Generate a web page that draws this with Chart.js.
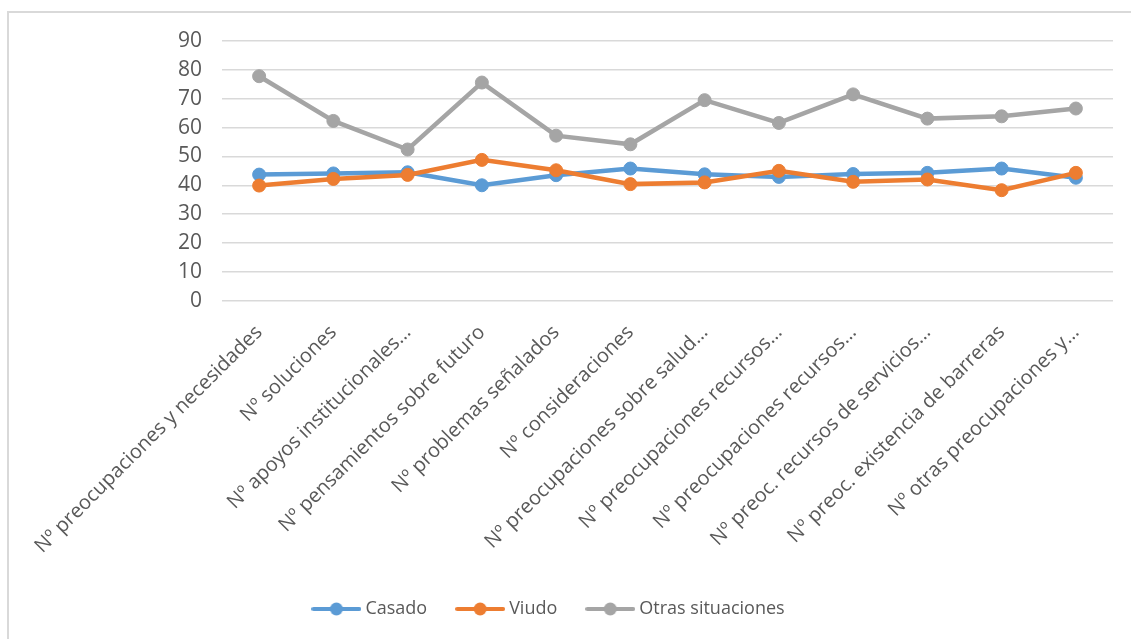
<!DOCTYPE html>
<html lang="es">
<head>
    <meta charset="UTF-8">
    <script src="https://cdn.jsdelivr.net/npm/chart.js"></script>
    <title>Preocupaciones según estado civil</title>
    <style>
        html, body { margin: 0; padding: 0; background: #fff; overflow: hidden; }
        .marco {
            position: absolute; left: 7px; top: 11px;
            width: 1200px; height: 700px;
            border-left: 2px solid #d9d9d9; border-top: 2px solid #d9d9d9;
        }
        #grafico_estadocivil { position: absolute; left: 0; top: 0; }
    </style>
</head>
<body>
    <div class="marco"></div>
    <canvas id="grafico_estadocivil" width="1131" height="639"></canvas>

<script>

    // categorías del eje horizontal (tal como aparecen, recortadas)
    const categorias = [
        'Nº preocupaciones y necesidades',
        'Nº soluciones',
        'Nº apoyos institucionales…',
        'Nº pensamientos sobre futuro',
        'Nº problemas señalados',
        'Nº consideraciones',
        'Nº preocupaciones sobre salud…',
        'Nº preocupaciones recursos…',
        'Nº preocupaciones recursos…',
        'Nº preoc. recursos de servicios…',
        'Nº preoc. existencia de barreras',
        'Nº otras preocupaciones y…'
    ];

    const casado = [43.7, 44.1, 44.5, 40.0, 43.5, 45.8, 43.8, 42.9, 43.9, 44.3, 45.8, 42.6];
    const viudo = [39.9, 42.2, 43.6, 48.8, 45.2, 40.4, 41.0, 45.0, 41.2, 42.0, 38.3, 44.3];
    const otrasSituaciones = [77.8, 62.3, 52.4, 75.6, 57.2, 54.2, 69.5, 61.6, 71.5, 63.1, 63.9, 66.6];

    const nombresSeries = ['Casado', 'Viudo', 'Otras situaciones'];
    const coloresSeries = ['#5b9bd5', '#ed7d31', '#a5a5a5'];
    const valoresEjeY = [0, 90, 10]; // mínimo, máximo, paso

    const colorTexto = '#595959';
    const colorRejilla = '#d9d9d9';

    // icono de la leyenda: línea con el marcador en el centro
    function iconoLeyenda(color) {
        var c = document.createElement('canvas');
        c.width = 50;
        c.height = 16;
        var ctx = c.getContext('2d');
        ctx.strokeStyle = color;
        ctx.lineWidth = 4;
        ctx.lineCap = 'round';
        ctx.beginPath();
        ctx.moveTo(2, 8);
        ctx.lineTo(48, 8);
        ctx.stroke();
        ctx.fillStyle = color;
        ctx.beginPath();
        ctx.arc(25, 8, 6.5, 0, Math.PI * 2);
        ctx.fill();
        return c;
    }

    function serie(indice, datos, orden) {
        return {
            label: nombresSeries[indice],
            data: datos,
            borderColor: coloresSeries[indice],
            backgroundColor: coloresSeries[indice],
            pointBackgroundColor: coloresSeries[indice],
            pointBorderColor: coloresSeries[indice],
            borderWidth: 4.5,
            pointRadius: 6.5,
            pointBorderWidth: 1,
            tension: 0,
            order: orden
        };
    }

    // corre la leyenda un poco a la izquierda
    const moverLeyenda = {
        id: 'moverLeyenda',
        afterLayout(chart) {
            chart.legend.left -= 11;
            chart.legend.right -= 11;
        }
    };

    const graficoEstadoCivil = document.getElementById('grafico_estadocivil');

    new Chart(graficoEstadoCivil, {
        type: 'line',
        data: {
            labels: categorias,
            datasets: [
                serie(0, casado, 3),
                serie(1, viudo, 2),
                serie(2, otrasSituaciones, 1)
            ]
        },
        plugins: [moverLeyenda],
        options: {
            responsive: false,
            devicePixelRatio: 1,
            animation: false,
            layout: {
                padding: { left: 10, right: 18, top: 41, bottom: 11 }
            },
            plugins: {
                tooltip: { enabled: false },
                legend: {
                    position: 'bottom',
                    labels: {
                        usePointStyle: true,
                        pointStyleWidth: 40,
                        padding: 33,
                        color: colorTexto,
                        font: { family: 'Open Sans', size: 18 },
                        sort: (a, b) => a.datasetIndex - b.datasetIndex,
                        generateLabels: (chart) => {
                            const items = Chart.defaults.plugins.legend.labels.generateLabels(chart);
                            items.forEach(item => {
                                item.pointStyle = iconoLeyenda(coloresSeries[item.datasetIndex]);
                            });
                            return items;
                        }
                    }
                }
            },
            scales: {
                x: {
                    offset: true,
                    grid: { display: false },
                    border: { display: false },
                    ticks: {
                        autoSkip: false,
                        minRotation: 45,
                        maxRotation: 45,
                        padding: 12,
                        color: colorTexto,
                        font: { family: 'Open Sans', size: 20 }
                    },
                    afterFit: (escala) => { escala.height = 266.3; }
                },
                y: {
                    min: valoresEjeY[0],
                    max: valoresEjeY[1],
                    border: { display: false },
                    grid: { color: colorRejilla, lineWidth: 1.5, drawTicks: false },
                    ticks: {
                        stepSize: valoresEjeY[2],
                        padding: 20,
                        color: colorTexto,
                        font: { family: 'Open Sans', size: 21 }
                    },
                    afterFit: (escala) => { escala.width = 212; }
                }
            }
        }
    });

</script>
</body>
</html>
